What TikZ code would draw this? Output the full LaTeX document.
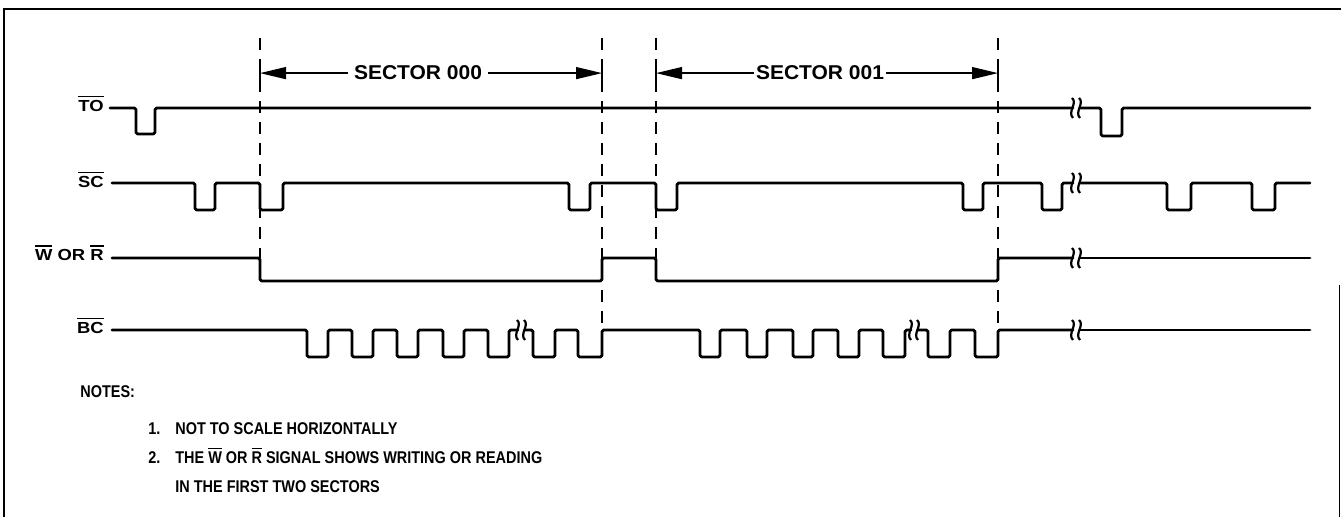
\documentclass[tikz,border=0pt]{standalone}
\usepackage{fontspec}
\setmainfont{Liberation Sans}
\newfontfamily\lblf{Liberation Sans}[FakeStretch=1.15]
\newfontfamily\secf{Liberation Sans}[FakeStretch=1.05]
\newfontfamily\notef{Liberation Sans}[FakeStretch=0.85]
\usetikzlibrary{arrows.meta}
\newcommand\ob[1]{\leavevmode\vbox{\hrule height 0.6pt\kern 1.7pt\hbox{#1}}}
\newcommand\wig[2]{%
  \draw[wigst] (#1,#2-10) .. controls (#1+6,#2-5) and (#1-5,#2+4) .. (#1+1,#2+10);
  \draw[wigst] (#1+7,#2-10) .. controls (#1+13,#2-5) and (#1+2,#2+4) .. (#1+8,#2+10);}
\tikzset{
  sig/.style={line width=1.4pt, rounded corners=0.8pt, line cap=round, line join=round},
  wigst/.style={line width=1.1pt},
  frame/.style={line width=1.4pt},
  dsh/.style={line width=0.9pt, dash pattern=on 6pt off 4.5pt},
  tick/.style={line width=0.9pt},
  arr/.style={line width=0.7pt, -{Triangle[length=13pt,width=6pt]}},
  lbl/.style={inner sep=0pt, font=\lblf\bfseries\fontsize{8}{9}\selectfont, anchor=base east},
  sec/.style={inner ysep=0pt, font=\secf\bfseries\fontsize{10}{12}\selectfont, anchor=base},
  note/.style={inner sep=0pt, font=\notef\bfseries\fontsize{8.5}{10}\selectfont, anchor=base west}
}
\begin{document}
\begin{tikzpicture}[x=0.5pt,y=-0.5pt]
\useasboundingbox (0,0) rectangle (1341,517);
% frame
\draw[frame] (4,517) -- (4,9) -- (1341,9);
\draw[line width=0.8pt] (1339.5,285) -- (1339.5,517);

% dashed markers
\coordinate (d1) at (260,0);
\coordinate (d2) at (602,0);
\coordinate (d3) at (656,0);
\coordinate (d4) at (998,0);
\draw[dsh] (260,38) -- (260,258);
\draw[dsh] (602,38) -- (602,330);
\draw[dsh] (656,38) -- (656,258);
\draw[dsh] (998,38) -- (998,330);
\foreach \x in {260,602,656,998} \draw[tick] (\x,63) -- (\x,85);

% sector labels and arrows
\node[sec, inner xsep=3pt] (s0) at (418,80) {SECTOR 000};
\node[sec, inner xsep=1pt] (s1) at (820,80) {SECTOR 001};
\draw[arr] (s0.west) -- (s0.west -| d1);
\draw[arr] (s0.east) -- (s0.east -| d2);
\draw[arr] (s1.west) -- (s1.west -| d3);
\draw[arr] (s1.east) -- (s1.east -| d4);

% signal labels
\node[lbl] (to) at (104,112) {\ob{TO}};
\node[lbl] (sc) at (104,188) {\ob{SC}};
\node[lbl] (wr) at (104,261) {\ob{W} OR \ob{R}};
\node[lbl] (bc) at (104,334) {\ob{BC}};

% TO
\draw[sig] (110,108) -- (136,108) -- (136,134) -- (155,134) -- (155,108) -- (1073,108);
\wig{1072}{108}
\draw[sig] (1080,108) -- (1101,108) -- (1101,136) -- (1122,136) -- (1122,108) -- (1310,108);

% SC
\draw[sig] (112,183) -- (195,183) -- (195,210) -- (215,210) -- (215,183)
  -- (260,183) -- (260,210) -- (283,210) -- (283,183)
  -- (569,183) -- (569,210) -- (590,210) -- (590,183)
  -- (656,183) -- (656,210) -- (677,210) -- (677,183)
  -- (963,183) -- (963,210) -- (983,210) -- (983,183)
  -- (1042,183) -- (1042,210) -- (1062,210) -- (1062,183) -- (1073,183);
\wig{1072}{183}
\draw[sig] (1080,183) -- (1167,183) -- (1167,210) -- (1191,210) -- (1191,183)
  -- (1252,183) -- (1252,210) -- (1275,210) -- (1275,183) -- (1310,183);

% W OR R
\draw[sig] (112,258) -- (260,258) -- (260,281) -- (602,281) -- (602,258)
  -- (656,258) -- (656,281) -- (998,281) -- (998,258) -- (1073,258);
\wig{1072}{258}
\draw[sig] (1080,258) -- (1310,258);

% BC
\draw[sig] (112,330) -- (307,330) -- (307,357) -- (328,357) -- (328,330)
  -- (352,330) -- (352,357) -- (373,357) -- (373,330)
  -- (397,330) -- (397,357) -- (418,357) -- (418,330)
  -- (443,330) -- (443,357) -- (464,357) -- (464,330)
  -- (488,330) -- (488,357) -- (509,357) -- (509,330) -- (518,330);
\wig{517}{330}
\draw[sig] (525,330) -- (533,330) -- (533,357) -- (555,357) -- (555,330)
  -- (578,330) -- (578,357) -- (602,357) -- (602,330)
  -- (700,330) -- (700,357) -- (720,357) -- (720,330)
  -- (747,330) -- (747,357) -- (767,357) -- (767,330)
  -- (793,330) -- (793,357) -- (813,357) -- (813,330)
  -- (838,330) -- (838,357) -- (859,357) -- (859,330)
  -- (883,330) -- (883,357) -- (905,357) -- (905,330) -- (911,330);
\wig{910}{330}
\draw[sig] (918,330) -- (928,330) -- (928,357) -- (950,357) -- (950,330)
  -- (975,330) -- (975,357) -- (998,357) -- (998,330) -- (1073,330);
\wig{1072}{330}
\draw[sig] (1080,330) -- (1310,330);

% notes
\node[note] (nh) at (80,398) {NOTES:};
\node[note] (n1n) at (148,435) {1.};
\node[note] (n1) at (175,435) {NOT TO SCALE HORIZONTALLY};
\node[note] (n2n) at (148,464) {2.};
\node[note] (n2) at (175,464) {THE \ob{W} OR \ob{R} SIGNAL SHOWS WRITING OR READING};
\node[note] (n3) at (175,493) {IN THE FIRST TWO SECTORS};
\end{tikzpicture}
\end{document}
